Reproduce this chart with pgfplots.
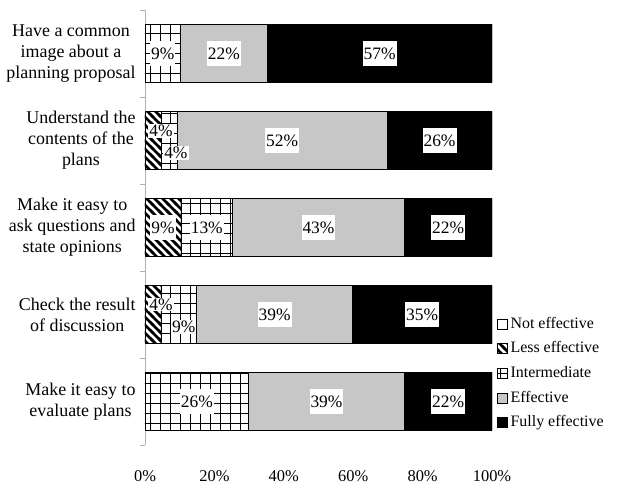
\documentclass[border=0pt]{standalone}
\usepackage{pgfplots}
\pgfplotsset{compat=1.18}
\usetikzlibrary{patterns,patterns.meta}
\usepackage{fontspec}
\setmainfont{Liberation Serif}

\tikzdeclarepattern{
  name=biggrid,
  type=uncolored,
  bottom left={(-1bp,-1bp)},
  top right={(11bp,11bp)},
  tile size={(10bp,10bp)},
  code={\draw[line width=1bp] (0bp,-1bp)--(0bp,11bp) (-1bp,0bp)--(11bp,0bp);}
}
\tikzdeclarepattern{
  name=hatch,
  type=uncolored,
  bottom left={(-2bp,-2bp)},
  top right={(10bp,10bp)},
  tile size={(8bp,8bp)},
  code={\draw[line width=2.5bp] (-2bp,10bp)--(10bp,-2bp);}
}
\pgfplotsset{
  sqlegend/.style={legend image code/.code={\draw[##1,draw=black,line width=0.7bp] (0bp,-5bp) rectangle (10bp,5bp);}},
}
\tikzset{
  lbl/.style={fill=white, inner xsep=1bp, inner ysep=7bp, font=\fontsize{17.5}{19}\selectfont},
  lbs/.style={fill=white, inner xsep=1bp, inner ysep=1bp, font=\fontsize{17.5}{19}\selectfont},
}

\begin{document}
\begin{tikzpicture}
\begin{axis}[
  xbar stacked,
  scale only axis,
  width=347bp, height=435bp,
  xmin=0, xmax=100,
  ymin=-0.5, ymax=4.5,
  y dir=reverse,
  bar width=0.667,
  axis lines*=left,
  x axis line style={draw=none},
  y axis line style={draw=gray!60, line width=0.7bp},
  xtick={0,20,40,60,80,100},
  xticklabels={0\%,20\%,40\%,60\%,80\%,100\%},
  x tick style={draw=none},
  xticklabel style={yshift=-22bp, font=\fontsize{16.5}{18}\selectfont},
  ytick={0,1,2,3,4},
  yticklabels={{Have a common\\image about a\\planning proposal},
               {Understand the\\contents of the\\plans},
               {Make it easy to\\ask questions and\\state opinions},
               {Check the result\\of discussion},
               {Make it easy to\\evaluate plans}},
  major y tick style={draw=none},
  major tick length=0pt,
  minor ytick={-0.5,0.5,1.5,2.5,3.5,4.5},
  minor y tick style={draw=gray!60, line width=0.7bp},
  minor tick length=5bp,
  tick align=outside,
  yticklabel style={align=center, xshift=-6bp, font=\fontsize{18}{21}\selectfont},
  legend style={at={(axis description cs:1,0.297)}, anchor=north west, xshift=5bp,
    draw=none, fill=none, inner sep=0pt, row sep=8.7bp, column sep=0pt,
    font=\fontsize{16}{18}\selectfont,
    nodes={inner sep=0pt, text height=12bp, text depth=4bp},
    cells={anchor=west}},
  legend cell align=left,
  every axis plot/.append style={draw=black, line width=0.7bp},
]
\addlegendimage{sqlegend, fill=white}
\addlegendentry{\,Not effective}
\addplot[sqlegend, pattern=hatch] coordinates {(0,0) (4.65,1) (10.34,2) (4.60,3) (0,4)};
\addlegendentry{\,Less effective}
\addplot[sqlegend, pattern=biggrid] coordinates {(10.23,0) (4.65,1) (14.94,2) (10.34,3) (29.89,4)};
\addlegendentry{\,Intermediate}
\addplot[sqlegend, fill=black!22] coordinates {(25.00,0) (60.47,1) (49.43,2) (44.83,3) (44.83,4)};
\addlegendentry{\,Effective}
\addplot[sqlegend, fill=black] coordinates {(64.77,0) (30.23,1) (25.29,2) (40.23,3) (25.29,4)};
\addlegendentry{\,Fully effective}

\coordinate (a1) at (axis cs:5.11,0);
\coordinate (a2) at (axis cs:22.73,0);
\coordinate (a3) at (axis cs:67.61,0);
\coordinate (b1) at (axis cs:4.6,0.89);
\coordinate (b2) at (axis cs:8.9,1.14);
\coordinate (b3) at (axis cs:39.53,1);
\coordinate (b4) at (axis cs:84.88,1);
\coordinate (c1) at (axis cs:5.17,2);
\coordinate (c2) at (axis cs:17.8,2);
\coordinate (c3) at (axis cs:50.0,2);
\coordinate (c4) at (axis cs:87.36,2);
\coordinate (d1) at (axis cs:4.6,2.885);
\coordinate (d2) at (axis cs:11.2,3.14);
\coordinate (d3) at (axis cs:37.36,3);
\coordinate (d4) at (axis cs:79.89,3);
\coordinate (e1) at (axis cs:14.94,4);
\coordinate (e2) at (axis cs:52.30,4);
\coordinate (e3) at (axis cs:87.36,4);

\coordinate (ll) at (axis description cs:0,0);
\coordinate (ur) at (axis description cs:1,1);
\end{axis}
\node[lbl] at (a1) {9\%};
\node[lbl] at (a2) {22\%};
\node[lbl] at (a3) {57\%};
\node[lbs] at (b1) {4\%};
\node[lbs] at (b2) {4\%};
\node[lbl] at (b3) {52\%};
\node[lbl] at (b4) {26\%};
\node[lbl] at (c1) {9\%};
\node[lbl] at (c2) {13\%};
\node[lbl] at (c3) {43\%};
\node[lbl] at (c4) {22\%};
\node[lbs] at (d1) {4\%};
\node[lbs] at (d2) {9\%};
\node[lbl] at (d3) {39\%};
\node[lbl] at (d4) {35\%};
\node[lbl] at (e1) {26\%};
\node[lbl] at (e2) {39\%};
\node[lbl] at (e3) {22\%};
\pgfresetboundingbox
\path ([xshift=-145bp,yshift=-39bp]ll) rectangle ([xshift=126bp,yshift=10bp]ur);
\end{tikzpicture}
\end{document}
